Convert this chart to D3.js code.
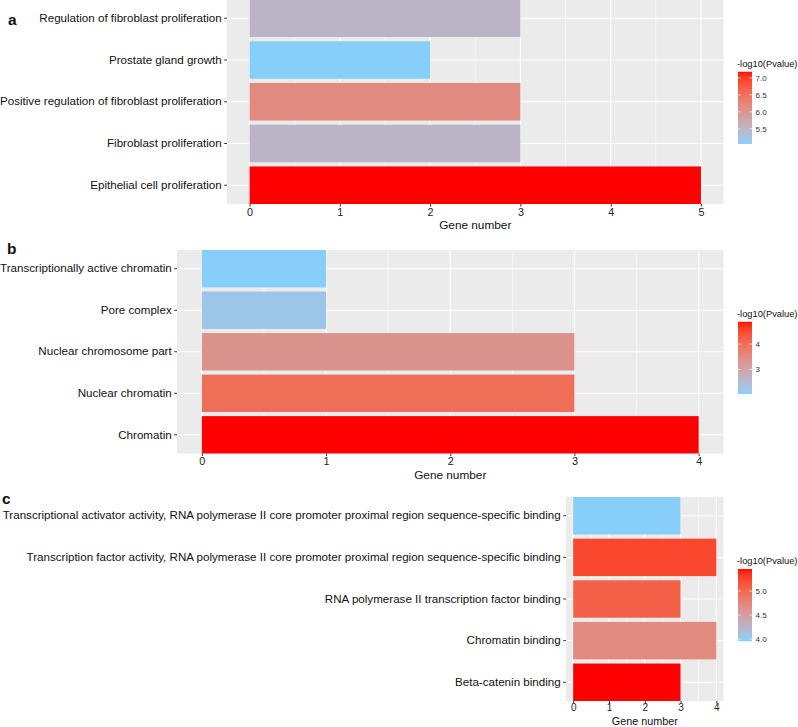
<!DOCTYPE html>
<html>
<head>
<meta charset="utf-8">
<script src="https://cdn.jsdelivr.net/npm/d3@7"></script>
<style>
  body { margin: 0; background: #fff; }
  svg { font-family: "Liberation Sans", Arial, sans-serif; }
</style>
</head>
<body>
<div id="vis"></div>
<script>
// panel a - biological process
var termsA = ["Regulation of fibroblast proliferation", "Prostate gland growth",
  "Positive regulation of fibroblast proliferation", "Fibroblast proliferation",
  "Epithelial cell proliferation"];
var genesA = [3, 2, 3, 3, 5];
var pvalA = [5.5, 5.06, 6.12, 5.5, 7.18];
var legendTicksA = [5.5, 6.0, 6.5, 7.0];
var xTicksA = [0, 1, 2, 3, 4, 5];

// panel b - cellular component
var termsB = ["Transcriptionally active chromatin", "Pore complex",
  "Nuclear chromosome part", "Nuclear chromatin", "Chromatin"];
var genesB = [1, 1, 3, 3, 4];
var pvalB = [2.04, 2.25, 3.3, 3.95, 4.88];
var legendTicksB = [3, 4];
var xTicksB = [0, 1, 2, 3, 4];

// panel c - molecular function
var termsC = ["Transcriptional activator activity, RNA polymerase II core promoter proximal region sequence-specific binding",
  "Transcription factor activity, RNA polymerase II core promoter proximal region sequence-specific binding",
  "RNA polymerase II transcription factor binding", "Chromatin binding", "Beta-catenin binding"];
var genesC = [3, 4, 3, 4, 3];
var pvalC = [3.96, 5.24, 5.07, 4.71, 5.46];
var legendTicksC = [4.0, 4.5, 5.0];
var xTicksC = [0, 1, 2, 3, 4];

var svg = d3.select("#vis")
  .append("svg")
  .attr("width", 798)
  .attr("height", 727);

function drawPanel(opt) {
  var g = svg.append("g");

  var x = d3.scaleLinear()
    .domain([opt.xmin, opt.xmax])
    .range([opt.left, 723.5]);

  var y = d3.scaleBand()
    .domain(opt.terms)
    .range([opt.top, opt.bottom])
    .paddingInner(0.1)
    .paddingOuter(0);

  var color = d3.scaleLinear()
    .domain(d3.extent(opt.pval))
    .range(["#87CEFA", "#FF0000"])
    .interpolate(d3.interpolateLab);

  // panel background
  g.append("rect")
    .attr("x", opt.left)
    .attr("y", opt.top)
    .attr("width", 723.5 - opt.left)
    .attr("height", opt.bottom - opt.top)
    .attr("fill", "#EBEBEB");

  // minor grid
  var minor = d3.range(opt.xTicks[0] + 0.5, opt.xTicks[opt.xTicks.length - 1], 1);
  g.selectAll(".minor")
    .data(minor)
    .enter().append("line")
    .attr("x1", function(d) { return x(d); })
    .attr("x2", function(d) { return x(d); })
    .attr("y1", opt.top)
    .attr("y2", opt.bottom)
    .attr("stroke", "#fff")
    .attr("stroke-width", 0.55);

  // major grid
  g.selectAll(".vmajor")
    .data(opt.xTicks)
    .enter().append("line")
    .attr("x1", function(d) { return x(d); })
    .attr("x2", function(d) { return x(d); })
    .attr("y1", opt.top)
    .attr("y2", opt.bottom)
    .attr("stroke", "#fff")
    .attr("stroke-width", 1.1);

  g.selectAll(".hmajor")
    .data(opt.terms)
    .enter().append("line")
    .attr("x1", opt.left)
    .attr("x2", 723.5)
    .attr("y1", function(d) { return y(d) + y.bandwidth() / 2; })
    .attr("y2", function(d) { return y(d) + y.bandwidth() / 2; })
    .attr("stroke", "#fff")
    .attr("stroke-width", 1.1);

  // bars
  g.selectAll(".bar")
    .data(opt.terms)
    .enter().append("rect")
    .attr("x", x(0))
    .attr("y", function(d) { return y(d); })
    .attr("width", function(d, i) { return x(opt.genes[i]) - x(0); })
    .attr("height", y.bandwidth())
    .attr("fill", function(d, i) { return color(opt.pval[i]); });

  // y axis
  var yAxis = g.append("g")
    .attr("transform", "translate(" + opt.left + ",0)")
    .call(d3.axisLeft(y).tickSize(2.8).tickPadding(2.5));
  yAxis.select(".domain").remove();
  yAxis.selectAll("line").attr("stroke", "#333");
  yAxis.selectAll("text")
    .attr("fill", "#111")
    .style("font-size", "11.6px")
    .style("font-family", "'Liberation Sans', Arial, sans-serif");

  // x axis
  var xAxis = g.append("g")
    .attr("transform", "translate(0," + opt.bottom + ")")
    .call(d3.axisBottom(x).tickValues(opt.xTicks).tickFormat(d3.format("d"))
      .tickSize(2.6).tickPadding(opt.tickPad));
  xAxis.select(".domain").remove();
  xAxis.selectAll("line").attr("stroke", "#333");
  xAxis.selectAll("text")
    .attr("fill", "#222")
    .style("font-size", opt.tickFont + "px")
    .style("font-family", "'Liberation Sans', Arial, sans-serif");

  // x axis title
  g.append("text")
    .attr("x", (opt.left + 723.5) / 2)
    .attr("y", opt.bottom + opt.titleGap)
    .attr("text-anchor", "middle")
    .attr("fill", "#111")
    .style("font-size", opt.titleFont + "px")
    .text("Gene number");

  // panel letter
  g.append("text")
    .attr("x", opt.letterX)
    .attr("y", opt.letterY)
    .attr("font-weight", "bold")
    .attr("fill", "#111")
    .style("font-size", "15.5px")
    .text(opt.letter);

  // legend
  var barTop = (opt.top + opt.bottom) / 2 - 30;
  var barH = 72;
  var leg = g.append("g").attr("transform", "translate(738," + barTop + ")");

  leg.append("text")
    .attr("x", -1)
    .attr("y", -5)
    .attr("fill", "#111")
    .style("font-size", "9.3px")
    .text("-log10(Pvalue)");

  var ly = d3.scaleLinear()
    .domain(d3.extent(opt.pval))
    .range([barH, 0]);

  var steps = d3.range(0, barH, 1);
  leg.selectAll(".cb")
    .data(steps)
    .enter().append("rect")
    .attr("x", 0)
    .attr("y", function(d) { return d; })
    .attr("width", 14)
    .attr("height", 1.2)
    .attr("fill", function(d) { return color(ly.invert(d + 0.5)); });

  leg.selectAll(".ltick")
    .data(opt.legendTicks)
    .enter().append("path")
    .attr("d", function(d) {
      var yy = ly(d);
      return "M0," + yy + "h2.8M11.2," + yy + "h2.8";
    })
    .attr("stroke", "#fff")
    .attr("stroke-width", 0.6);

  leg.selectAll(".llab")
    .data(opt.legendTicks)
    .enter().append("text")
    .attr("x", 17.5)
    .attr("y", function(d) { return ly(d); })
    .attr("dy", "0.35em")
    .attr("fill", "#333")
    .style("font-size", "8px")
    .text(function(d) { return opt.legendFormat(d); });
}

drawPanel({
  terms: termsA, genes: genesA, pval: pvalA,
  xmin: -0.25, xmax: 5.25, xTicks: xTicksA,
  left: 227, top: -0.5, bottom: 204,
  tickFont: 10.8, tickPad: 1.5, titleFont: 11.8, titleGap: 25,
  legendTicks: legendTicksA, legendFormat: d3.format(".1f"),
  letter: "a", letterX: 8, letterY: 25
});

drawPanel({
  terms: termsB, genes: genesB, pval: pvalB,
  xmin: -0.2, xmax: 4.2, xTicks: xTicksB,
  left: 177, top: 250, bottom: 453.5,
  tickFont: 10.8, tickPad: 1.5, titleFont: 11.8, titleGap: 25,
  legendTicks: legendTicksB, legendFormat: d3.format("d"),
  letter: "b", letterX: 7, letterY: 254
});

drawPanel({
  terms: termsC, genes: genesC, pval: pvalC,
  xmin: -0.2, xmax: 4.2, xTicks: xTicksC,
  left: 566, top: 497, bottom: 701,
  tickFont: 10, tickPad: 0.5, titleFont: 10.8, titleGap: 23.5,
  legendTicks: legendTicksC, legendFormat: d3.format(".1f"),
  letter: "c", letterX: 2, letterY: 504
});
</script>
</body>
</html>
